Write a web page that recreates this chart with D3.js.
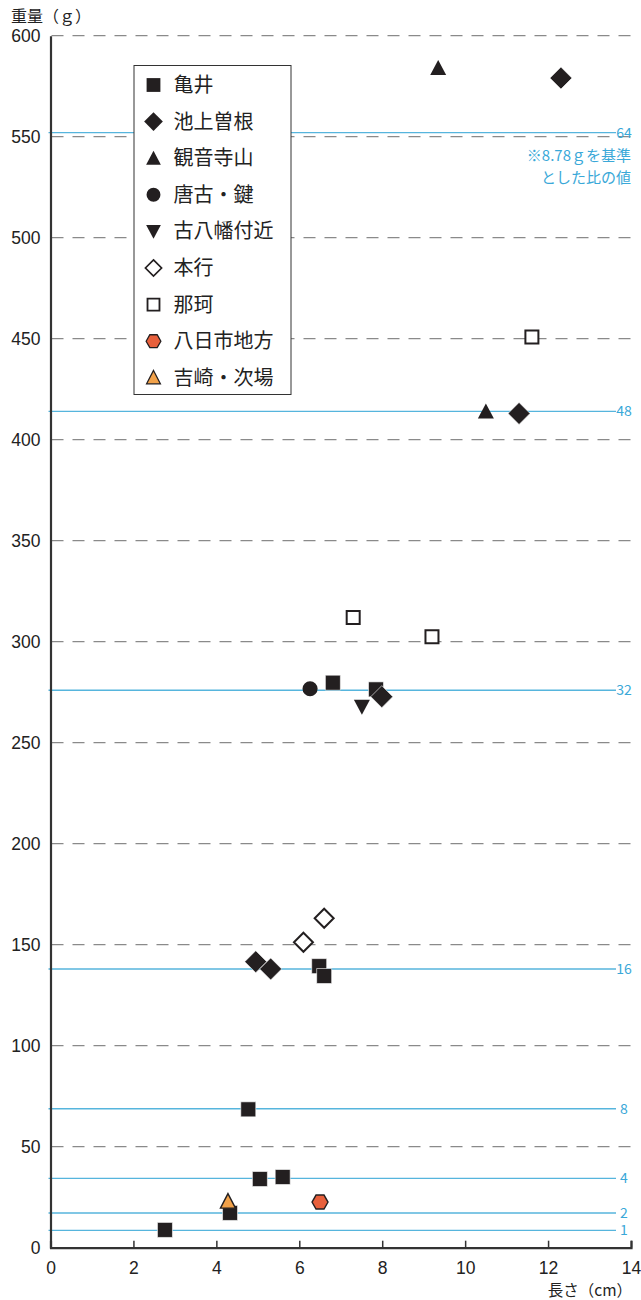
<!DOCTYPE html>
<head>
    <meta charset="utf-8">
    <style>
        * { padding: 0; margin: 0; }
        body { background: #fff; }
        svg { display: block; font-family: "Noto Sans CJK JP", "Noto Sans", sans-serif; }
    </style>
    <script src="https://cdnjs.cloudflare.com/ajax/libs/d3/7.8.5/d3.min.js"></script>
</head>

<body>
    <script>

        /////////////////////////////////////////////////////
        // DATA
        /////////////////////////////////////////////////////

        const xTicks = [0, 2, 4, 6, 8, 10, 12, 14]
        const yTicks = [0, 50, 100, 150, 200, 250, 300, 350, 400, 450, 500, 550, 600]

        //blue reference lines: ratio label and weight (g)
        const ratioLabels = [1, 2, 4, 8, 16, 32, 48, 64]
        const ratioWeights = [8.6, 17.2, 34.3, 68.8, 138, 276, 414, 552]

        const sites = ["亀井", "池上曽根", "観音寺山", "唐古・鍵", "古八幡付近", "本行", "那珂", "八日市地方", "吉崎・次場"]

        //length (cm) / weight (g) per site
        const kameiX = [2.76, 4.33, 4.77, 5.05, 5.60, 6.48, 6.60, 6.81, 7.85]
        const kameiY = [8.8, 17.2, 68.5, 34.0, 35.0, 139.4, 134.5, 279.7, 276.4]
        const ikegamiX = [12.31, 11.30, 7.99, 4.95, 5.31]
        const ikegamiY = [579, 413, 272.8, 141.6, 138]
        const kannonjiX = [9.35, 10.50]
        const kannonjiY = [584, 414]
        const karakoX = [6.26]
        const karakoY = [276.7]
        const kohachimanX = [7.51]
        const kohachimanY = [267.8]
        const hongyoX = [6.10, 6.60]
        const hongyoY = [151.2, 163.1]
        const nakaX = [11.61, 7.30, 9.20]
        const nakaY = [450.8, 312, 302.5]
        const yokaichiX = [6.50]
        const yokaichiY = [22.6]
        const yoshizakiX = [4.28]
        const yoshizakiY = [22.8]

        const seriesX = [kameiX, ikegamiX, kannonjiX, karakoX, kohachimanX, hongyoX, nakaX, yokaichiX, yoshizakiX]
        const seriesY = [kameiY, ikegamiY, kannonjiY, karakoY, kohachimanY, hongyoY, nakaY, yokaichiY, yoshizakiY]

        /////////////////////////////////////////////////////
        // SETUP
        /////////////////////////////////////////////////////

        const width = 641
        const height = 1300
        const dark = "#231f20"
        const blue = "#56b5dd"
        const blueText = "#3aa8d8"

        const x = d3.scaleLinear().domain([0, 14]).range([50.5, 631])
        const y = d3.scaleLinear().domain([0, 600]).range([1247.7, 35.7])

        const svg = d3.select("body").append("svg")
            .attr("width", width)
            .attr("height", height)

        //Marker shapes (path around 0,0)
        const shapes = [
            { path: "M-7.5,-7.5H7.5V7.5H-7.5Z", fill: dark, stroke: "#fff", sw: 0.6 },
            { path: "M0,-11L11,0L0,11L-11,0Z", fill: dark, stroke: "#fff", sw: 0.6 },
            { path: "M0,-8L8,7L-8,7Z", fill: dark, stroke: "none", sw: 0 },
            { path: d3.symbol(d3.symbolCircle, 180)(), fill: dark, stroke: "none", sw: 0 },
            { path: "M0,8L8,-7L-8,-7Z", fill: dark, stroke: "none", sw: 0 },
            { path: "M0,-9.5L9.5,0L0,9.5L-9.5,0Z", fill: "#fff", stroke: dark, sw: 2 },
            { path: "M-6.5,-6.5H6.5V6.5H-6.5Z", fill: "#fff", stroke: dark, sw: 2 },
            { path: "M-8,0L-4,-7H4L8,0L4,7H-4Z", fill: "#e8603c", stroke: dark, sw: 1.4 },
            { path: "M0,-8L7.5,6.5L-7.5,6.5Z", fill: "#f2a24a", stroke: dark, sw: 1.4 }
        ]

        /////////////////////////////////////////////////////
        // GRID
        /////////////////////////////////////////////////////

        svg.append("g").selectAll("line")
            .data(yTicks.filter(d => d > 0))
            .join("line")
            .attr("x1", x(0) + 1)
            .attr("x2", x(14))
            .attr("y1", d => y(d))
            .attr("y2", d => y(d))
            .attr("stroke", "#8a8a8a")
            .attr("stroke-width", 1.3)
            .attr("stroke-dasharray", "12,9")

        //blue ratio lines
        const ratio = svg.append("g")
        ratio.selectAll("line")
            .data(ratioWeights)
            .join("line")
            .attr("x1", x(0) - 2)
            .attr("x2", 616)
            .attr("y1", d => y(d))
            .attr("y2", d => y(d))
            .attr("stroke", blue)
            .attr("stroke-width", 1.4)

        ratio.selectAll("text")
            .data(ratioWeights)
            .join("text")
            .attr("x", 624)
            .attr("y", d => y(d))
            .attr("dy", "0.35em")
            .attr("text-anchor", "middle")
            .attr("font-size", 14)
            .attr("fill", blueText)
            .text((d, i) => ratioLabels[i])

        svg.append("text")
            .attr("x", 631)
            .attr("y", 161)
            .attr("text-anchor", "end")
            .attr("font-size", 15)
            .attr("fill", blueText)
            .text("※8.78ｇを基準")
        svg.append("text")
            .attr("x", 631)
            .attr("y", 183)
            .attr("text-anchor", "end")
            .attr("font-size", 15)
            .attr("fill", blueText)
            .text("とした比の値")

        /////////////////////////////////////////////////////
        // AXES
        /////////////////////////////////////////////////////

        const xAxis = svg.append("g")
            .attr("transform", `translate(0,${y(0)})`)
            .call(d3.axisBottom(x).tickValues(xTicks).tickSize(-7).tickPadding(14))
        xAxis.select(".domain").attr("stroke", "#333").attr("stroke-width", 2.2)
        xAxis.selectAll(".tick line").attr("stroke", "#333").attr("stroke-width", 1.5)
        xAxis.selectAll("text").attr("font-size", 17.5).attr("fill", "#222").attr("font-family", "inherit")

        const yAxis = svg.append("g")
            .attr("transform", `translate(${x(0)},0)`)
            .call(d3.axisLeft(y).tickValues(yTicks).tickSize(0).tickPadding(10))
        yAxis.select(".domain").attr("stroke", "#333").attr("stroke-width", 2.2)
        yAxis.selectAll("text").attr("font-size", 17.5).attr("fill", "#222").attr("font-family", "inherit")

        svg.append("text")
            .attr("x", 11)
            .attr("y", 22)
            .attr("font-size", 16)
            .attr("fill", "#222")
            .text("重量（ｇ）")

        svg.append("text")
            .attr("x", 632)
            .attr("y", 1296)
            .attr("text-anchor", "end")
            .attr("font-size", 15.5)
            .attr("fill", "#222")
            .text("長さ（cm）")

        /////////////////////////////////////////////////////
        // POINTS
        /////////////////////////////////////////////////////

        seriesX.forEach((xs, s) => {
            const pts = xs.map((v, i) => [v, seriesY[s][i]])
            svg.append("g").selectAll("path")
                .data(pts)
                .join("path")
                .attr("transform", d => `translate(${x(d[0])},${y(d[1])})`)
                .attr("d", shapes[s].path)
                .attr("fill", shapes[s].fill)
                .attr("stroke", shapes[s].stroke)
                .attr("stroke-width", shapes[s].sw)
        })

        /////////////////////////////////////////////////////
        // LEGEND
        /////////////////////////////////////////////////////

        const legend = svg.append("g")
        legend.append("rect")
            .attr("x", 134)
            .attr("y", 65.5)
            .attr("width", 157)
            .attr("height", 329)
            .attr("fill", "#fff")
            .attr("stroke", "#333")
            .attr("stroke-width", 1)

        const items = legend.selectAll("g")
            .data(sites)
            .join("g")
            .attr("transform", (d, i) => `translate(153.5,${85 + i * 36.6})`)

        items.append("path")
            .attr("d", (d, i) => shapes[i].path)
            .attr("transform", (d, i) => i === 1 || i === 5 ? "scale(0.85)" : "scale(0.92)")
            .attr("fill", (d, i) => shapes[i].fill)
            .attr("stroke", (d, i) => shapes[i].stroke === "#fff" ? "none" : shapes[i].stroke)
            .attr("stroke-width", (d, i) => shapes[i].sw)

        items.append("text")
            .attr("x", 20)
            .attr("y", 7)
            .attr("font-size", 20)
            .attr("fill", "#222")
            .text(d => d)

    </script>
</body>
